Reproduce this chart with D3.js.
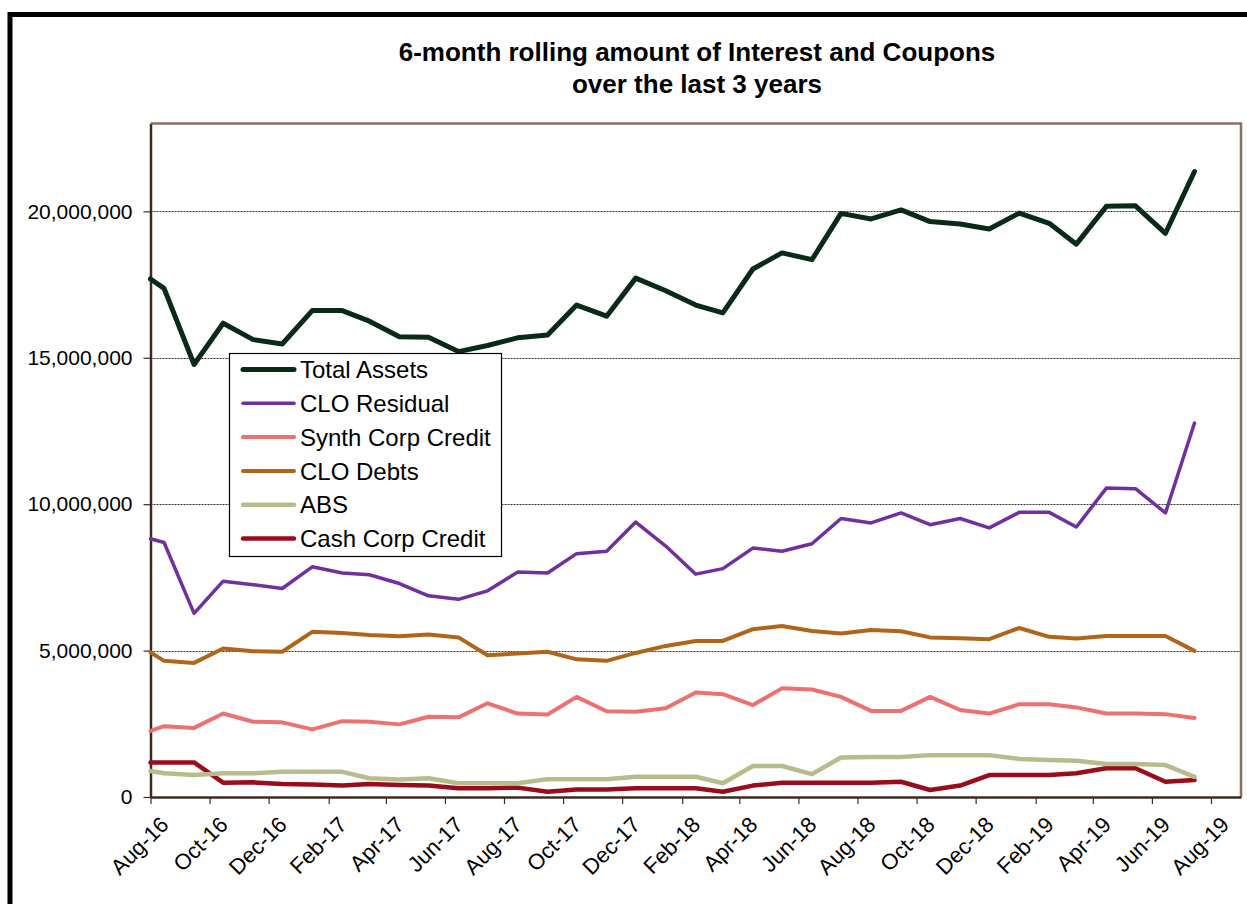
<!DOCTYPE html>
<html>
<head>
<meta charset="utf-8">
<script src="https://cdn.jsdelivr.net/npm/d3@7/dist/d3.min.js"></script>
<style>
  html, body { margin: 0; padding: 0; background: #fff; }
  svg { display: block; }
  text { font-family: Arial, "Liberation Sans", sans-serif; }
</style>
</head>
<body>
<svg id="chart" width="1247" height="904"></svg>
<script>
// ---------- DATA ----------
const dates = [
  "2016-08-01","2016-08-15","2016-09-15","2016-10-15","2016-11-15","2016-12-15",
  "2017-01-15","2017-02-15","2017-03-15","2017-04-15","2017-05-15","2017-06-15",
  "2017-07-15","2017-08-15","2017-09-15","2017-10-15","2017-11-15","2017-12-15",
  "2018-01-15","2018-02-15","2018-03-15","2018-04-15","2018-05-15","2018-06-15",
  "2018-07-15","2018-08-15","2018-09-15","2018-10-15","2018-11-15","2018-12-15",
  "2019-01-15","2019-02-15","2019-03-15","2019-04-15","2019-05-15","2019-06-15",
  "2019-07-15"
];
const totalAssets = [17690000,17370000,14770000,16180000,15620000,15470000,16610000,16610000,16250000,15720000,15700000,15210000,15420000,15680000,15780000,16800000,16420000,17720000,17290000,16800000,16530000,18030000,18580000,18350000,19930000,19740000,20050000,19650000,19570000,19400000,19940000,19590000,18880000,20170000,20190000,19250000,21360000];
const cloResidual = [8820000,8690000,6270000,7370000,7250000,7120000,7860000,7650000,7590000,7290000,6870000,6750000,7040000,7680000,7650000,8310000,8390000,9390000,8570000,7610000,7800000,8500000,8390000,8650000,9510000,9360000,9700000,9300000,9510000,9190000,9720000,9720000,9220000,10550000,10530000,9700000,12770000];
const synthCorpCredit = [2260000,2420000,2360000,2850000,2570000,2550000,2310000,2590000,2570000,2480000,2740000,2720000,3200000,2850000,2820000,3420000,2930000,2910000,3030000,3570000,3510000,3140000,3710000,3670000,3420000,2940000,2940000,3420000,2970000,2850000,3170000,3170000,3060000,2850000,2850000,2830000,2700000];
const cloDebts = [4940000,4650000,4580000,5070000,4980000,4960000,5640000,5600000,5530000,5490000,5550000,5450000,4840000,4900000,4960000,4700000,4650000,4920000,5160000,5330000,5330000,5730000,5840000,5670000,5580000,5700000,5660000,5450000,5420000,5390000,5770000,5470000,5410000,5500000,5500000,5500000,4990000];
const abs = [890000,810000,750000,810000,810000,860000,860000,860000,640000,600000,640000,470000,470000,470000,610000,610000,610000,690000,690000,690000,470000,1060000,1060000,780000,1350000,1370000,1370000,1430000,1430000,1430000,1300000,1260000,1240000,1130000,1130000,1090000,690000];
const cashCorpCredit = [1180000,1180000,1180000,490000,500000,440000,430000,390000,440000,410000,390000,300000,300000,320000,180000,260000,260000,300000,300000,300000,180000,390000,490000,490000,490000,490000,520000,240000,390000,750000,750000,750000,810000,980000,980000,520000,580000];

const seriesNames = ["Total Assets","CLO Residual","Synth Corp Credit","CLO Debts","ABS","Cash Corp Credit"];
const seriesColors = ["#082a16","#7030a0","#ef7070","#b0661a","#b8bc8c","#9a0c1c"];
const seriesWidths = [5, 3.5, 4, 4, 4.5, 4.5];
const seriesValues = [totalAssets, cloResidual, synthCorpCredit, cloDebts, abs, cashCorpCredit];

const xTickLabels = ["Aug-16","Oct-16","Dec-16","Feb-17","Apr-17","Jun-17","Aug-17","Oct-17","Dec-17","Feb-18","Apr-18","Jun-18","Aug-18","Oct-18","Dec-18","Feb-19","Apr-19","Jun-19","Aug-19"];
const yTicks = [0, 5000000, 10000000, 15000000, 20000000];
const titleLines = ["6-month rolling amount of Interest and Coupons", "over the last 3 years"];

// ---------- LAYOUT ----------
const svg = d3.select("#chart");
const plot = { left: 150.5, right: 1241, top: 123.5, bottom: 797 };

const parseDate = d3.utcParse("%Y-%m-%d");
const parseTick = d3.utcParse("%b-%y");
const x = d3.scaleUtc()
  .domain([parseDate("2016-08-01"), parseDate("2019-09-01")])
  .range([plot.left, plot.right]);
const y = d3.scaleLinear()
  .domain([0, 23000000])
  .range([plot.bottom, plot.top]);

// outer frame
svg.append("rect")
  .attr("x", 10).attr("y", 14.5)
  .attr("width", 1300).attr("height", 1000)
  .attr("fill", "none").attr("stroke", "#000").attr("stroke-width", 5);

// title
svg.append("g").selectAll("text").data(titleLines).join("text")
  .attr("x", 697).attr("y", (d, i) => 61 + i * 32)
  .attr("text-anchor", "middle")
  .attr("font-size", 26).attr("font-weight", "bold").attr("fill", "#000")
  .text(d => d);

// gridlines
svg.append("g").selectAll("line").data(yTicks.filter(v => v > 0)).join("line")
  .attr("x1", plot.left).attr("x2", plot.right)
  .attr("y1", d => Math.round(y(d)) + 0.5).attr("y2", d => Math.round(y(d)) + 0.5)
  .attr("stroke", "#333").attr("stroke-width", 1).attr("stroke-dasharray", "2,1");

// plot border (top & right)
svg.append("path")
  .attr("d", `M${plot.left},${plot.top}H${plot.right}V${plot.bottom}`)
  .attr("fill", "none").attr("stroke", "#8c6e5a").attr("stroke-width", 2.5);

// y axis
const yAxis = d3.axisLeft(y).tickValues(yTicks).tickFormat(d3.format(",")).tickSize(7).tickSizeOuter(0).tickPadding(11);
const gy = svg.append("g").attr("transform", `translate(${plot.left},0)`).call(yAxis);
gy.select(".domain").attr("stroke", "#3b2b22").attr("stroke-width", 2.5);
gy.selectAll(".tick line").attr("stroke", "#3b2b22").attr("stroke-width", 1.2);
gy.selectAll(".tick text").attr("font-size", 21).attr("fill", "#000")
  .attr("font-family", "Arial, 'Liberation Sans', sans-serif");

// x axis
const xAxis = d3.axisBottom(x).tickValues(xTickLabels.map(parseTick)).tickFormat(d3.utcFormat("%b-%y")).tickSize(7).tickSizeOuter(0);
const gx = svg.append("g").attr("transform", `translate(0,${plot.bottom})`).call(xAxis);
gx.select(".domain").attr("stroke", "#3b2b22").attr("stroke-width", 2.5);
gx.selectAll(".tick line").attr("stroke", "#3b2b22").attr("stroke-width", 1.2);
gx.selectAll(".tick text")
  .attr("font-size", 22).attr("fill", "#000")
  .attr("font-family", "Arial, 'Liberation Sans', sans-serif")
  .attr("text-anchor", "end")
  .attr("dy", null).attr("y", null)
  .attr("transform", "translate(19,29) rotate(-45)");

// lines
const dataDates = dates.map(parseDate);
const line = d3.line().x((d, i) => x(dataDates[i])).y(d => y(d));
const order = [5, 4, 2, 3, 1, 0];
svg.append("g").selectAll("path").data(order).join("path")
  .attr("d", i => line(seriesValues[i]))
  .attr("fill", "none")
  .attr("stroke", i => seriesColors[i])
  .attr("stroke-width", i => seriesWidths[i])
  .attr("stroke-linejoin", "round")
  .attr("stroke-linecap", "round");

// legend
const lg = svg.append("g");
lg.append("rect").attr("x", 229.5).attr("y", 353.5).attr("width", 272).attr("height", 203)
  .attr("fill", "#fff").attr("stroke", "#000").attr("stroke-width", 1.2);
const items = lg.selectAll("g.item").data(seriesNames).join("g").attr("class", "item")
  .attr("transform", (d, i) => `translate(0,${369.5 + i * 33.8})`);
items.append("line").attr("x1", 243).attr("x2", 294).attr("y1", 0).attr("y2", 0)
  .attr("stroke", (d, i) => seriesColors[i]).attr("stroke-width", (d, i) => seriesWidths[i])
  .attr("stroke-linecap", "round");
items.append("text").attr("x", 300).attr("y", 0).attr("dy", "0.36em")
  .attr("font-size", 24).attr("fill", "#000").text(d => d);
</script>
</body>
</html>
